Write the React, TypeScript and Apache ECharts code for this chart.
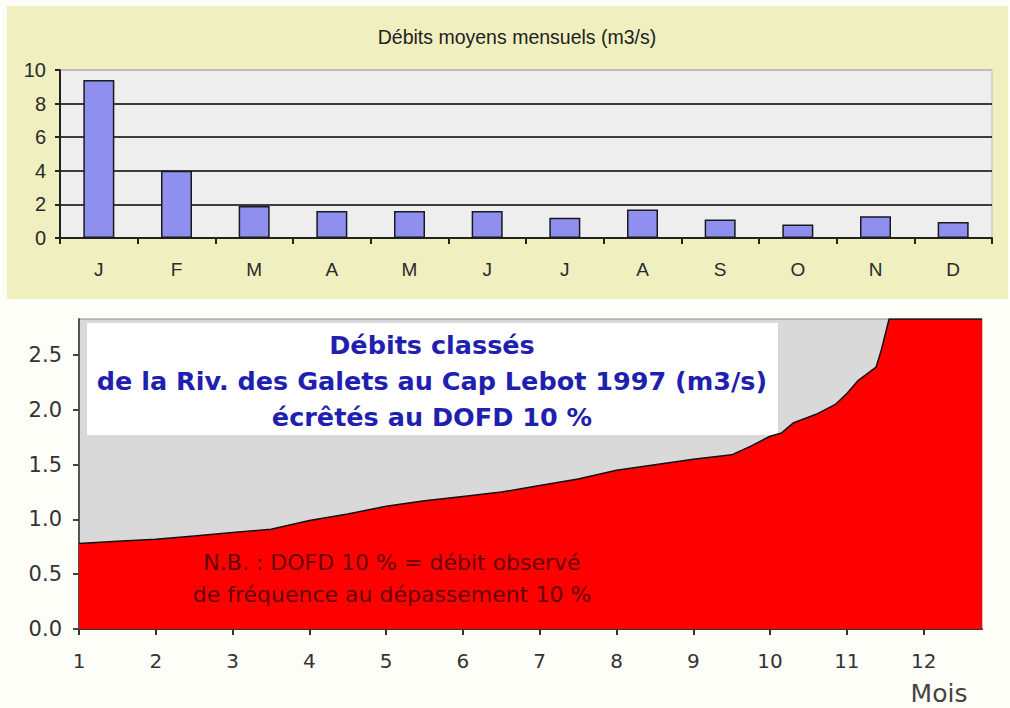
import React, { useEffect, useRef } from "react";
import * as echarts from "echarts";

// Top chart: monthly mean flows (m3/s)
const months = ["J", "F", "M", "A", "M", "J", "J", "A", "S", "O", "N", "D"];
const monthlyFlow = [9.4, 4.0, 1.9, 1.6, 1.6, 1.6, 1.2, 1.7, 1.1, 0.8, 1.3, 0.95];

// Bottom chart: classified flows (clipped at DOFD 10 %)
const durationMonth = [1, 1.5, 2, 2.5, 3, 3.5, 4, 4.5, 5, 5.5, 6, 6.5, 7, 7.5, 8, 8.5, 9, 9.5, 9.75, 10, 10.15, 10.3, 10.6, 10.85, 11, 11.15, 11.38, 11.45, 11.55, 12.76];
const durationFlow = [0.78, 0.8, 0.82, 0.85, 0.88, 0.91, 0.99, 1.05, 1.12, 1.17, 1.21, 1.25, 1.31, 1.37, 1.45, 1.5, 1.55, 1.59, 1.67, 1.76, 1.79, 1.88, 1.96, 2.05, 2.15, 2.27, 2.39, 2.55, 2.83, 2.83];

const bottomYTicks = [0, 0.5, 1, 1.5, 2, 2.5];
const bottomXTicks = [1, 2, 3, 4, 5, 6, 7, 8, 9, 10, 11, 12];

const topTitle = "Débits moyens mensuels (m3/s)";
const bottomTitle = "Débits classés\nde la Riv. des Galets au Cap Lebot 1997 (m3/s)\nécrêtés au DOFD 10 %";
const noteText = "N.B. : DOFD 10 % = débit observé\nde fréquence au dépassement 10 %";
const xAxisName = "Mois";

export default function App() {
  const ref = useRef<HTMLDivElement>(null);
  useEffect(() => {
    if (!ref.current) return;
    const chart = echarts.init(ref.current, null, { renderer: "svg" });
    const option: any = {
      animation: false,
      backgroundColor: "#fefef8",
      grid: [
        {
          left: 60, top: 70, width: 932, height: 168,
          show: true, backgroundColor: "#eeeeee", borderColor: "#bdbdbd", borderWidth: 1,
        },
        {
          left: 79, top: 319, width: 903, height: 310,
          show: true, backgroundColor: "#d9d9d9", borderColor: "#8c8c8c", borderWidth: 1,
        },
      ],
      xAxis: [
        {
          type: "category", gridIndex: 0, data: months,
          axisLine: { lineStyle: { color: "#222", width: 2 } },
          axisTick: { show: true, alignWithLabel: false, length: 6, lineStyle: { color: "#222", width: 2 } },
          axisLabel: { color: "#2a2a2a", fontFamily: "Liberation Sans", fontSize: 19, margin: 22 },
          splitLine: { show: false },
        },
        {
          type: "value", gridIndex: 1, min: 1, max: 12.76,
          axisLine: { onZero: false, lineStyle: { color: "#333", width: 2 } },
          axisTick: { show: true, length: 6, customValues: bottomXTicks, lineStyle: { color: "#333", width: 2 } },
          axisLabel: { color: "#333", fontFamily: "DejaVu Sans", fontSize: 20, margin: 22, customValues: bottomXTicks },
          splitLine: { show: false },
        },
      ],
      yAxis: [
        {
          type: "value", gridIndex: 0, min: 0, max: 10, interval: 2,
          axisLine: { show: true, lineStyle: { color: "#222", width: 2 } },
          axisTick: { show: true, length: 5, lineStyle: { color: "#222", width: 2 } },
          axisLabel: { color: "#2a2a2a", fontFamily: "Liberation Sans", fontSize: 20, margin: 14 },
          splitLine: {
            show: true,
            lineStyle: { color: ["#3c3c3c", "#3c3c3c", "#3c3c3c", "#3c3c3c", "#3c3c3c", "#bdbdbd"], width: 2 },
          },
        },
        {
          type: "value", gridIndex: 1, min: 0, max: 2.83,
          axisLine: { show: true, onZero: false, lineStyle: { color: "#555", width: 2 } },
          axisTick: { show: true, length: 6, customValues: bottomYTicks, lineStyle: { color: "#444", width: 2 } },
          axisLabel: {
            color: "#333", fontFamily: "DejaVu Sans", fontSize: 21, margin: 17,
            customValues: bottomYTicks,
            formatter: (v: number) => v.toFixed(1),
          },
          splitLine: { show: false },
        },
      ],
      series: [
        {
          type: "bar", xAxisIndex: 0, yAxisIndex: 0, data: monthlyFlow, barWidth: 31,
          itemStyle: { color: "#8f8fef", borderColor: "#1a1a1a", borderWidth: 1.5 },
        },
        {
          type: "line", xAxisIndex: 1, yAxisIndex: 1,
          data: durationMonth.map((m, i) => [m, durationFlow[i]]),
          symbol: "none", clip: true,
          lineStyle: { color: "#111", width: 1.5 },
          areaStyle: { color: "#ff0000", opacity: 1 },
          z: 2,
        },
      ],
      graphic: [
        { type: "rect", z: -1, silent: true, shape: { x: 7, y: 6, width: 1001, height: 293 }, style: { fill: "#efefbf" } },
        { type: "rect", z: 1, silent: true, shape: { x: 87, y: 323, width: 691, height: 112 }, style: { fill: "#ffffff" } },
        {
          type: "text", z: 5, x: 517, y: 37,
          style: { text: topTitle, fill: "#222", font: "19.5px 'Liberation Sans'", align: "center", verticalAlign: "middle" },
        },
        {
          type: "text", z: 5, x: 432, y: 381,
          style: {
            text: bottomTitle, fill: "#1f1fb0", font: "bold 25.5px 'DejaVu Sans'",
            align: "center", verticalAlign: "middle", lineHeight: 36,
          },
        },
        {
          type: "text", z: 5, x: 392, y: 578,
          style: {
            text: noteText, fill: "#650000", font: "22px 'DejaVu Sans'",
            align: "center", verticalAlign: "middle", lineHeight: 32,
          },
        },
        {
          type: "text", z: 5, x: 939, y: 693,
          style: { text: xAxisName, fill: "#444", font: "25px 'DejaVu Sans'", align: "center", verticalAlign: "middle" },
        },
      ],
    };
    chart.setOption(option);
    return () => chart.dispose();
  }, []);
  return <div ref={ref} style={{ position: "absolute", left: 0, top: 0, width: 1010, height: 708 }} />;
}
